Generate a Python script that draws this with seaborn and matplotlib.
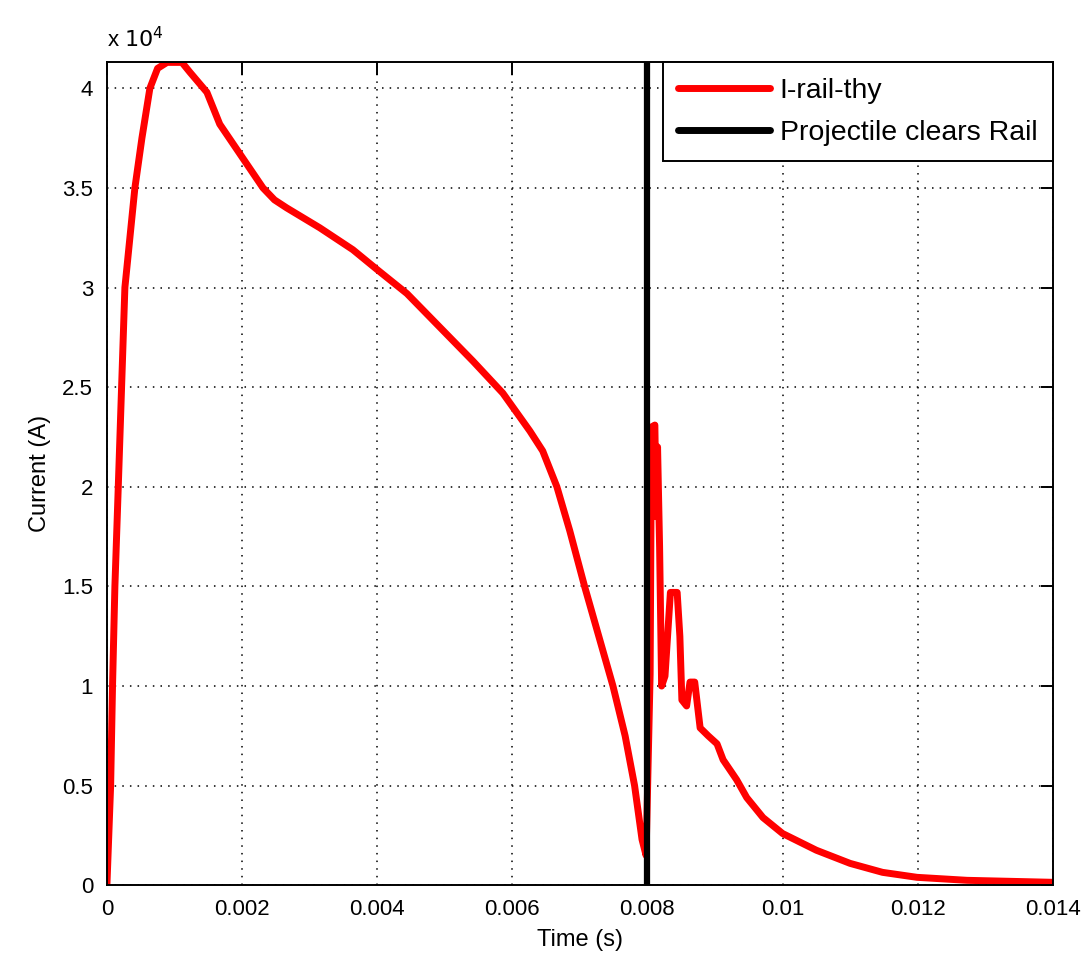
import numpy as np
import pandas as pd
import matplotlib
matplotlib.use("Agg")
import matplotlib.pyplot as plt
import seaborn as sns
from matplotlib.ticker import FuncFormatter, MultipleLocator

# ---- data ----
time_s = [0.0, 0.000055, 0.000083, 0.000118, 0.000168, 0.000217, 0.000266,
          0.00034, 0.000414, 0.000518, 0.000636, 0.00075, 0.00089, 0.0010,
          0.00111, 0.00123, 0.00148, 0.00167, 0.00197, 0.00231, 0.00248,
          0.00266, 0.00315, 0.00364, 0.0040, 0.00444, 0.00493, 0.00542,
          0.00586, 0.00626, 0.00645, 0.00666, 0.00685, 0.00707, 0.00728,
          0.00749, 0.00767, 0.00781, 0.00792, 0.00798,
          0.00804, 0.00806, 0.00811, 0.00813, 0.00815, 0.00818, 0.00821,
          0.00826, 0.00834, 0.00844, 0.00848, 0.00851, 0.00858, 0.00863,
          0.0087, 0.00878, 0.0089, 0.00903, 0.00912, 0.00932, 0.00947,
          0.00971, 0.0100, 0.0105, 0.0110, 0.01148, 0.01199, 0.01273, 0.0140]
current_a = [0, 5000, 10000, 15000, 20000, 25000, 30000,
             32500, 35000, 37500, 40000, 41000, 41300, 41300,
             41300, 40800, 39800, 38200, 36700, 35000, 34400,
             34000, 33000, 31900, 30900, 29700, 28000, 26300,
             24700, 22800, 21800, 20000, 17800, 15000, 12500,
             10000, 7500, 5000, 2300, 1500,
             10600, 23000, 23100, 18500, 22000, 17000, 10000,
             10500, 14700, 14700, 12500, 9300, 9000, 10200,
             10200, 7900, 7500, 7100, 6300, 5300, 4400,
             3400, 2600, 1760, 1100, 650, 400, 250, 150]
clear_time = 0.008
series_labels = ["I-rail-thy", "Projectile clears Rail"]
x_ticks = [0, 0.002, 0.004, 0.006, 0.008, 0.01, 0.012, 0.014]
x_tick_labels = ["0", "0.002", "0.004", "0.006", "0.008", "0.01", "0.012", "0.014"]

sns.set_style("white")
plt.rcParams['font.family'] = ['Liberation Sans', 'DejaVu Sans']
plt.rcParams['text.color'] = 'black'
plt.rcParams['axes.labelcolor'] = 'black'

df = pd.DataFrame({"t": time_s, "I": current_a})

fig = plt.figure(figsize=(10.91, 9.75), dpi=100)
ax = fig.add_axes([0.098, 0.092, 0.867, 0.844])

sns.lineplot(data=df, x="t", y="I", ax=ax, color="#ff0000", lw=5,
             estimator=None, sort=False, label=series_labels[0])
ax.axvline(clear_time, color="black", lw=4.5, label=series_labels[1])

ax.set_xlim(0, 0.014)
ax.set_ylim(0, 41300)
ax.set_xticks(x_ticks)
ax.set_xticklabels(x_tick_labels)
ax.yaxis.set_major_locator(MultipleLocator(5000))
ax.yaxis.set_major_formatter(FuncFormatter(lambda v, p: f"{v/1e4:g}"))

ax.grid(True, color="black", linestyle=(0, (1, 4)), linewidth=1.1)
for s in ax.spines.values():
    s.set_color("black")
    s.set_linewidth(1.4)
ax.tick_params(direction="in", length=9, width=1.4, top=True, right=True,
               labelsize=16, colors="black", pad=10)

ax.set_xlabel("Time (s)", fontsize=17, labelpad=6)
ax.set_ylabel("Current (A)", fontsize=17, labelpad=8)
ax.text(0.0, 1.012, r"x $10^{4}$", transform=ax.transAxes, fontsize=16,
        ha="left", va="bottom")

leg = ax.legend(loc="upper right", borderaxespad=0, fancybox=False,
                edgecolor="black", fontsize=20.5, handlelength=3.2,
                handletextpad=0.35, borderpad=0.55, labelspacing=0.55,
                framealpha=1)
leg.get_frame().set_linewidth(1.4)
for h in leg.legend_handles:
    h.set_linewidth(5)

fig.savefig("out.png", dpi=100)
